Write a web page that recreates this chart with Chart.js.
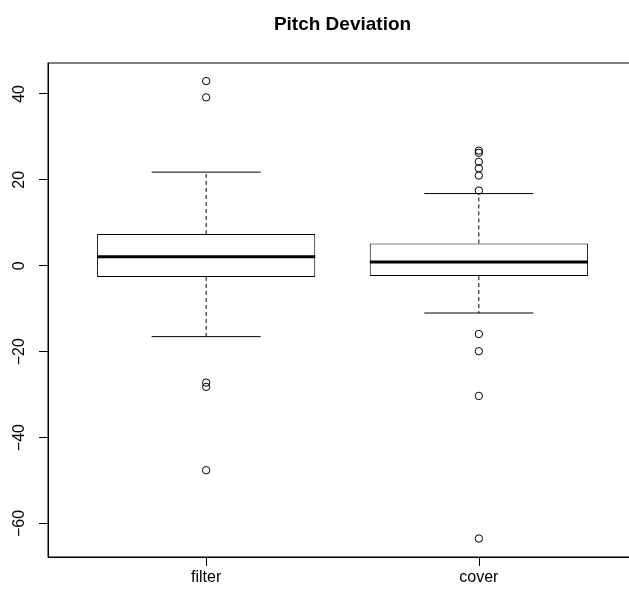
<!DOCTYPE html>
<html>
<head>
<meta charset="utf-8">
<script src="https://cdn.jsdelivr.net/npm/chart.js@4.4.1/dist/chart.umd.min.js"></script>
<style>
  html, body { margin: 0; padding: 0; background: #fff; overflow: hidden; }
  #wrap { width: 660px; height: 594px; }
</style>
</head>
<body>
<div id="wrap"><canvas id="pitchChart" width="660" height="594"></canvas></div>
<script>
// boxplot stats
const groups = ['filter', 'cover'];
const lowerWhisker = [-16.5, -11.0];
const lowerQuartile = [-2.6, -2.4];
const medians = [2.1, 0.9];
const upperQuartile = [7.4, 5.2];
const upperWhisker = [21.8, 16.8];
const outliers = [
  [43.0, 39.2, -27.2, -28.2, -47.6],
  [26.8, 26.3, 24.2, 22.7, 21.0, 17.5, -15.9, -19.9, -30.3, -63.5]
];
const yTicks = [-60, -40, -20, 0, 20, 40];

const BOX_HALF = 0.4;   // boxwex 0.8
const CAP_HALF = 0.2;   // staplewex 0.5

Chart.defaults.font.family = '"Liberation Sans", Arial, Helvetica, sans-serif';
Chart.defaults.color = '#000';

const boxes = groups.map((g, i) => ({ x: i + 1, y: [lowerQuartile[i], upperQuartile[i]] }));

const whiskers = [];
const caps = [];
const medianLines = [];
groups.forEach((g, i) => {
  const x = i + 1;
  whiskers.push({ x: x, y: upperQuartile[i] }, { x: x, y: upperWhisker[i] }, { x: x, y: null });
  whiskers.push({ x: x, y: lowerQuartile[i] }, { x: x, y: lowerWhisker[i] }, { x: x, y: null });
  caps.push({ x: x - CAP_HALF, y: upperWhisker[i] }, { x: x + CAP_HALF, y: upperWhisker[i] }, { x: x, y: null });
  caps.push({ x: x - CAP_HALF, y: lowerWhisker[i] }, { x: x + CAP_HALF, y: lowerWhisker[i] }, { x: x, y: null });
  medianLines.push({ x: x - BOX_HALF, y: medians[i] }, { x: x + BOX_HALF, y: medians[i] }, { x: x, y: null });
});

const outlierPoints = [];
outliers.forEach((vals, i) => vals.forEach(v => outlierPoints.push({ x: i + 1, y: v })));

// frame, x tick marks and title like R's box() / axis(1) / main
const framePlugin = {
  id: 'frame',
  afterDraw(chart) {
    const { ctx, chartArea } = chart;
    const xs = chart.scales.x;
    ctx.save();
    ctx.strokeStyle = '#000';
    ctx.lineWidth = 1;
    ctx.strokeRect(chartArea.left, chartArea.top, chartArea.right - chartArea.left, chartArea.bottom - chartArea.top);
    ctx.beginPath();
    groups.forEach((g, i) => {
      const px = Math.round(xs.getPixelForValue(i + 1)) + 0.5;
      ctx.moveTo(px, chartArea.bottom);
      ctx.lineTo(px, chartArea.bottom + 9);
    });
    ctx.stroke();
    ctx.font = 'bold 19px "Liberation Sans", Arial, sans-serif';
    ctx.fillStyle = '#000';
    ctx.textAlign = 'center';
    ctx.textBaseline = 'alphabetic';
    ctx.fillText('Pitch Deviation', (chartArea.left + chartArea.right) / 2, 30);
    ctx.restore();
  }
};

const lineCommon = {
  type: 'line',
  borderColor: '#000',
  pointRadius: 0,
  spanGaps: false,
  fill: false
};

new Chart(document.getElementById('pitchChart'), {
  type: 'bar',
  data: {
    datasets: [
      {
        label: 'box',
        data: boxes,
        backgroundColor: '#fff',
        borderColor: '#000',
        borderWidth: 1,
        borderSkipped: false,
        barPercentage: 0.8,
        categoryPercentage: 1.0,
        order: 5
      },
      Object.assign({ label: 'whisker', data: whiskers, borderWidth: 1, borderDash: [4, 3], order: 4 }, lineCommon),
      Object.assign({ label: 'staple', data: caps, borderWidth: 1, order: 3 }, lineCommon),
      Object.assign({ label: 'median', data: medianLines, borderWidth: 3, borderCapStyle: 'butt', order: 2 }, lineCommon),
      {
        type: 'scatter',
        label: 'outliers',
        data: outlierPoints,
        pointStyle: 'circle',
        pointRadius: 3.7,
        borderWidth: 1,
        borderColor: '#000',
        backgroundColor: 'rgba(0,0,0,0)',
        order: 1
      }
    ]
  },
  options: {
    responsive: false,
    animation: false,
    layout: { padding: { top: 63, right: 23, bottom: 0, left: 0 } },
    plugins: {
      legend: { display: false },
      tooltip: { enabled: false },
      title: { display: false }
    },
    scales: {
      x: {
        type: 'linear',
        min: 0.42,
        max: 2.58,
        offset: false,
        afterBuildTicks: s => { s.ticks = groups.map((g, i) => ({ value: i + 1 })); },
        afterFit: s => { s.height = 37; },
        ticks: {
          padding: 3,
          font: { size: 16 },
          color: '#000',
          callback: v => groups[Math.round(v) - 1]
        },
        grid: { display: false },
        border: { color: '#000' }
      },
      y: {
        min: -67.8,
        max: 47.2,
        afterBuildTicks: s => { s.ticks = yTicks.map(v => ({ value: v })); },
        afterFit: s => { s.width = 48; },
        ticks: {
          minRotation: 90,
          maxRotation: 90,
          crossAlign: 'center',
          padding: 6,
          font: { size: 16 },
          color: '#000',
          callback: v => v < 0 ? '\u2212' + Math.abs(v) : String(v)
        },
        grid: { offset: false, drawOnChartArea: false, tickLength: 9, color: '#000' },
        border: { color: '#000' }
      }
    }
  },
  plugins: [framePlugin]
});
</script>
</body>
</html>
